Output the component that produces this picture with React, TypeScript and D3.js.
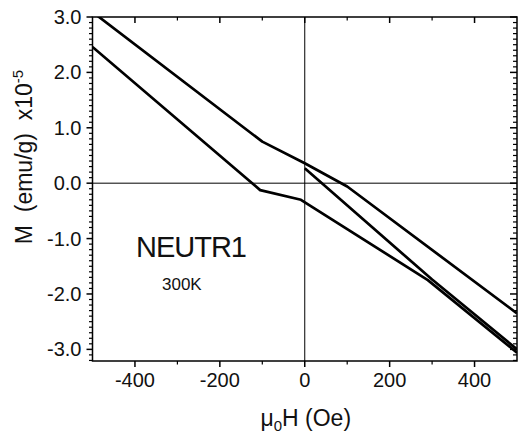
import React from "react";
import * as d3 from "d3";

// Field values (Oe) and magnetization (x10^-5 emu/g)
const upperH = [-500, -100, 0, 100, 500];
const upperM = [3.09, 0.75, 0.36, -0.06, -2.35];

const lowerH = [-500, -105, -9, 290, 500];
const lowerM = [2.46, -0.125, -0.3, -1.75, -3.06];

const virginH = [0, 300, 500];
const virginM = [0.27, -1.74, -3.0];

const xTicks = [-400, -200, 0, 200, 400];
const xMinor = [-300, -100, 100, 300];
const yTicks = [-3, -2, -1, 0, 1, 2, 3];

const W = 518;
const H = 437;
const L = 92.5, R = 517, T = 17, B = 361;

export default function App() {
  const x = d3.scaleLinear().domain([-500, 500]).range([L, R]);
  const y = d3.scaleLinear().domain([-3.21, 3.0]).range([B, T]);

  const line = d3
    .line<[number, number]>()
    .x((d) => x(d[0]))
    .y((d) => y(d[1]));

  const series = [
    upperH.map((h, i) => [h, upperM[i]] as [number, number]),
    lowerH.map((h, i) => [h, lowerM[i]] as [number, number]),
    virginH.map((h, i) => [h, virginM[i]] as [number, number]),
  ];

  const yMinor: number[] = [];
  for (let k = -32; k <= 30; k++) {
    if (k % 10 !== 0) yMinor.push(k / 10);
  }

  const font = "'Liberation Sans', Arial, sans-serif";

  return (
    <div style={{ position: "absolute", left: 0, top: 0 }}>
      <svg width={W} height={H} style={{ display: "block", background: "#fff" }}>
        <defs>
          <clipPath id="plotclip">
            <rect x={L} y={T} width={R - L} height={B - T} />
          </clipPath>
        </defs>
        <rect x={0} y={0} width={W} height={H} fill="#fff" />

        {/* zero lines */}
        <line x1={x(0)} x2={x(0)} y1={T} y2={B} stroke="#000" strokeWidth={1} />
        <line x1={L} x2={R} y1={y(0)} y2={y(0)} stroke="#000" strokeWidth={1} />

        {/* curves */}
        <g clipPath="url(#plotclip)">
          {series.map((s, i) => (
            <path
              key={i}
              d={line(s) || ""}
              fill="none"
              stroke="#000"
              strokeWidth={2.7}
              strokeLinejoin="round"
            />
          ))}
        </g>

        {/* frame */}
        <rect x={L} y={T} width={R - L} height={B - T} fill="none" stroke="#000" strokeWidth={1.5} />

        {/* x ticks bottom (outward) and top (inward) */}
        {xTicks.map((t) => (
          <g key={"xt" + t}>
            <line x1={x(t)} x2={x(t)} y1={B} y2={B + 6} stroke="#000" strokeWidth={1.5} />
            <line x1={x(t)} x2={x(t)} y1={T} y2={T + 6} stroke="#000" strokeWidth={1.5} />
            <text
              x={x(t)}
              y={386.5}
              textAnchor="middle"
              fontFamily={font}
              fontSize={20}
              fill="#111"
            >
              {t}
            </text>
          </g>
        ))}
        {xMinor.map((t) => (
          <g key={"xm" + t}>
            <line x1={x(t)} x2={x(t)} y1={B} y2={B + 3.5} stroke="#000" strokeWidth={1.2} />
            <line x1={x(t)} x2={x(t)} y1={T} y2={T + 3.5} stroke="#000" strokeWidth={1.2} />
          </g>
        ))}

        {/* y ticks left (outward) and right (inward) */}
        {yTicks.map((t) => (
          <g key={"yt" + t}>
            <line x1={L - 6} x2={L} y1={y(t)} y2={y(t)} stroke="#000" strokeWidth={1.5} />
            <line x1={R - 7} x2={R} y1={y(t)} y2={y(t)} stroke="#000" strokeWidth={1.5} />
            <text
              x={81.5}
              y={y(t) + 7}
              textAnchor="end"
              fontFamily={font}
              fontSize={20}
              fill="#111"
            >
              {t.toFixed(1)}
            </text>
          </g>
        ))}
        {yMinor.map((t) => (
          <g key={"ym" + t}>
            <line x1={L - 3.5} x2={L} y1={y(t)} y2={y(t)} stroke="#000" strokeWidth={1.2} />
            <line x1={R - 4} x2={R} y1={y(t)} y2={y(t)} stroke="#000" strokeWidth={1.2} />
          </g>
        ))}

        {/* annotations */}
        <text x={136} y={257} fontFamily={font} fontSize={29} fill="#111" textLength={111}>
          NEUTR1
        </text>
        <text x={162} y={290} fontFamily={font} fontSize={17} fill="#111">
          300K
        </text>

        {/* x axis title */}
        <text
          x={(L + R) / 2 + 1}
          y={426}
          textAnchor="middle"
          fontFamily={font}
          fontSize={23}
          fill="#111"
        >
          μ<tspan fontSize={15} dy={5}>0</tspan>
          <tspan dy={-5}>H (Oe)</tspan>
        </text>

        {/* y axis title */}
        <text
          transform={`translate(31.5, 157) rotate(-90)`}
          textAnchor="middle"
          fontFamily={font}
          fontSize={23}
          fill="#111"
          style={{ whiteSpace: "pre" }}
        >
          {"M  (emu/g)  x10"}
          <tspan fontSize={15} dy={-9}>-5</tspan>
        </text>
      </svg>
    </div>
  );
}
